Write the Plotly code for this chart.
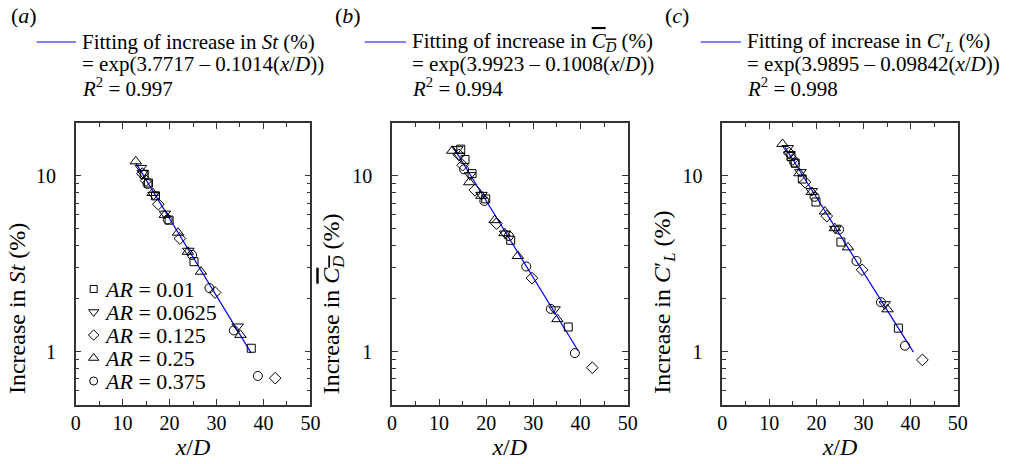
import plotly.graph_objects as go
import numpy as np

# ---------------- data ----------------
AR_labels = ["0.01", "0.0625", "0.125", "0.25", "0.375"]

x_ar001 = [14.6, 15.5, 17.0, 19.9, 25.2, 37.4]
x_ar00625 = [13.9, 14.3, 16.6, 19.0, 24.0, 34.5]
x_ar0125 = [14.2, 15.0, 17.6, 22.2, 29.7, 42.5]
x_ar025 = [12.8, 16.4, 19.0, 21.8, 23.9, 26.7, 35.1]
x_ar0375 = [15.3, 19.6, 24.8, 28.5, 33.7, 38.8]

# (a) increase in St (%)
st_ar001 = [10.2, 9.1, 7.7, 5.6, 3.25, 1.045]
st_ar00625 = [11.1, 10.4, 7.8, 6.1, 3.75, 1.39]
st_ar0125 = [10.3, 9.4, 6.9, 4.4, 2.17, 0.706]
st_ar025 = [12.1, 8.0, 6.0, 4.75, 3.7, 2.85, 1.245]
st_ar0375 = [9.0, 5.65, 3.55, 2.3, 1.32, 0.727]

# (b) increase in mean C_D (%)
cd_ar001 = [14.2, 12.4, 10.3, 7.4, 4.3, 1.38]
cd_ar00625 = [14.2, 13.0, 10.1, 7.8, 4.7, 1.74]
cd_ar0125 = [13.2, 11.5, 8.3, 5.35, 2.62, 0.81]
cd_ar025 = [13.9, 9.2, 7.7, 5.6, 4.72, 3.5, 1.53]
cd_ar0375 = [10.9, 7.2, 4.55, 3.05, 1.75, 0.98]

# (c) increase in C'_L (%)
cl_ar001 = [12.9, 11.8, 9.6, 7.1, 4.2, 1.36]
cl_ar00625 = [14.4, 13.3, 10.5, 8.2, 5.0, 1.86]
cl_ar0125 = [13.5, 12.4, 9.2, 5.9, 2.92, 0.897]
cl_ar025 = [15.2, 10.35, 8.1, 6.27, 5.04, 3.92, 1.74]
cl_ar0375 = [11.9, 7.6, 4.95, 3.28, 1.91, 1.08]

# fitted exponential laws: exp(a - b*x/D) and fit x-range
fit_a = [3.7717, 3.9923, 3.9895]
fit_b = [0.1014, 0.1008, 0.09842]
fit_xrange = [[12.8, 37.4], [13.2, 39.5], [13.2, 40.6]]
fit_r2 = ["0.997", "0.994", "0.998"]
fit_coef_txt = ["0.1014", "0.1008", "0.09842"]
fit_a_txt = ["3.7717", "3.9923", "3.9895"]

x_ticks = [0, 10, 20, 30, 40, 50]
y_ticks = [1, 10]
y_ticktext = ["1", "10"]
y_minor = [0.5, 0.6, 0.7, 0.8, 0.9, 2, 3, 4, 5, 6, 7, 8, 9, 20]

# ---------------- figure ----------------
W, H = 1015, 464
FONT = "Liberation Serif"
symbols = ["square-open", "triangle-down-open", "diamond-open", "triangle-up-open", "circle-open"]
msize = [8, 10, 9, 10, 9]
AXC = "#333333"
PAD = "\u00a0\u00a0"

xs = [x_ar001, x_ar00625, x_ar0125, x_ar025, x_ar0375]
panels = [
    [st_ar001, st_ar00625, st_ar0125, st_ar025, st_ar0375],
    [cd_ar001, cd_ar00625, cd_ar0125, cd_ar025, cd_ar0375],
    [cl_ar001, cl_ar00625, cl_ar0125, cl_ar025, cl_ar0375],
]

xdom_px = [(71.7, 310.0), (392.7, 632.0), (728.0, 967.0)]
ydom_px = (123.0, 404.5)
ydom = [1 - ydom_px[1] / H, 1 - ydom_px[0] / H]

fig = go.Figure()

for p in range(3):
    xa = "x" if p == 0 else f"x{p+1}"
    ya = "y" if p == 0 else f"y{p+1}"
    xf = np.array(fit_xrange[p])
    yf = np.exp(fit_a[p] - fit_b[p] * xf)
    fig.add_trace(go.Scatter(x=xf, y=yf, mode="lines", line=dict(color="#0000ff", width=1.2),
                             xaxis=xa, yaxis=ya, showlegend=False, hoverinfo="skip"))
    for k in range(5):
        fig.add_trace(go.Scatter(
            x=xs[k], y=panels[p][k], mode="markers",
            marker=dict(symbol=symbols[k], size=msize[k], color="black",
                        line=dict(color="black", width=1)),
            name=f"AR = {AR_labels[k]}",
            xaxis=xa, yaxis=ya, showlegend=False))

# custom legend inside panel (a), on an overlay axis spanning the panel (0..1)
leg_px_x = 90
leg_px_y0, leg_dy = 289, 23
pw = xdom_px[0][1] - xdom_px[0][0]
ph = ydom_px[1] - ydom_px[0]
for k in range(5):
    py = leg_px_y0 + leg_dy * k
    fx = (leg_px_x - xdom_px[0][0]) / pw
    fy = (ydom_px[1] - py) / ph
    fig.add_trace(go.Scatter(x=[fx], y=[fy], mode="markers",
                             marker=dict(symbol=symbols[k], size=msize[k] - 1, color="black",
                                         line=dict(color="black", width=1)),
                             xaxis="x4", yaxis="y4", showlegend=False, hoverinfo="skip"))
    fig.add_annotation(x=(leg_px_x + 8) / W, y=1 - py / H, xref="paper", yref="paper",
                       text=f"<i>AR</i> = {AR_labels[k]}", showarrow=False,
                       xanchor="left", yanchor="middle", font=dict(family=FONT, size=22, color="black"))

ytitles = ["Increase in <i>St</i> (%)",
           "Increase in <span style=\"text-decoration:overline\"><i>C</i><sub><i>D</i></sub></span> (%)",
           "Increase in <i>C</i>′<sub><i>L</i></sub> (%)"]

axis_common = dict(showline=True, linecolor=AXC, linewidth=1.5, mirror="ticks",
                   ticks="inside", tickcolor=AXC, ticklen=6, tickwidth=1,
                   showgrid=False, zeroline=False,
                   tickfont=dict(family=FONT, size=20, color="black"))

layout = dict(width=W, height=H, margin=dict(l=0, r=0, t=0, b=0),
              plot_bgcolor="white", paper_bgcolor="white", showlegend=False,
              font=dict(family=FONT, color="black"))

for p in range(3):
    sfx = "" if p == 0 else str(p + 1)
    xd = [xdom_px[p][0] / W, xdom_px[p][1] / W]
    layout["xaxis" + sfx] = dict(axis_common, domain=xd, range=[0, 50], tickvals=x_ticks,
                                 minor=dict(dtick=5, ticks="inside", ticklen=4, tickcolor=AXC),
                                 anchor="y" + sfx,
                                 title=dict(text="<i>x</i>/<i>D</i>", font=dict(family=FONT, size=24), standoff=4))
    layout["yaxis" + sfx] = dict(axis_common, domain=ydom, type="log",
                                 range=[np.log10(0.5), np.log10(20)], tickvals=y_ticks,
                                 ticktext=[t + PAD for t in y_ticktext], ticklabelstandoff=4,
                                 minor=dict(tickvals=y_minor, ticks="inside", ticklen=4, tickcolor=AXC),
                                 anchor="x" + sfx)
    fig.add_annotation(x=(xdom_px[p][0] - 60) / W, y=1 - 396 / H, xref="paper", yref="paper",
                       text=ytitles[p], textangle=-90, showarrow=False,
                       xanchor="center", yanchor="bottom", font=dict(family=FONT, size=24))

layout["xaxis4"] = dict(overlaying="x", range=[0, 1], visible=False,
                        anchor="y4", showgrid=False, zeroline=False)
layout["yaxis4"] = dict(overlaying="y", range=[0, 1], visible=False, anchor="x4",
                        showgrid=False, zeroline=False)
fig.update_layout(**layout)

# headers
letters = ["(<i>a</i>)", "(<i>b</i>)", "(<i>c</i>)"]
letter_x = [4, 333, 668]
line_x = [(32, 72), (365, 407), (706, 747)]
quant = ["<i>St</i>",
         "<span style=\"text-decoration:overline\"><i>C</i><sub><i>D</i></sub></span>",
         "<i>C</i>′<sub><i>L</i></sub>"]
line_y = [42, 64, 87]
for p in range(3):
    fig.add_annotation(x=letter_x[p] / W, y=1 - 15 / H, xref="paper", yref="paper",
                       text=letters[p], showarrow=False, xanchor="left", yanchor="middle",
                       font=dict(family=FONT, size=22))
    fig.add_shape(type="line", xref="paper", yref="paper",
                  x0=line_x[p][0] / W, x1=line_x[p][1] / W, y0=1 - 42 / H, y1=1 - 42 / H,
                  line=dict(color="#0000ff", width=1.2))
    lines = [f"Fitting of increase in {quant[p]} (%)",
             f"= exp({fit_a_txt[p]} – {fit_coef_txt[p]}(<i>x</i>/<i>D</i>))",
             f"<i>R</i><sup>2</sup> = {fit_r2[p]}"]
    for i, t in enumerate(lines):
        fig.add_annotation(x=(line_x[p][1] + 4) / W, y=1 - line_y[i] / H, xref="paper", yref="paper",
                           text=t, showarrow=False, xanchor="left", yanchor="middle",
                           font=dict(family=FONT, size=21))

fig.write_html("out.html")
